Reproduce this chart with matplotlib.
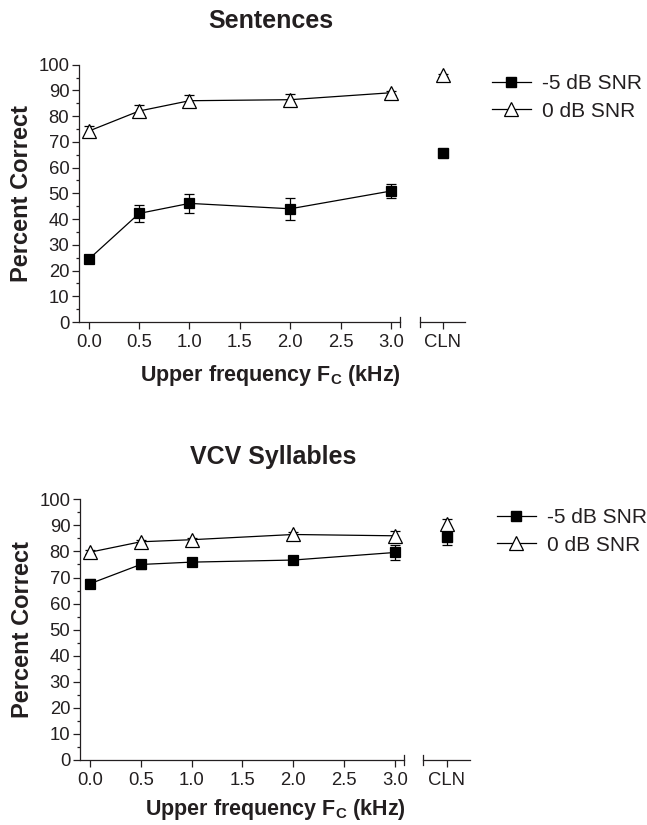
import matplotlib
matplotlib.use("Agg")
import matplotlib.pyplot as plt
from matplotlib.lines import Line2D

plt.rcParams['font.family'] = ['Liberation Sans', 'DejaVu Sans']
plt.rcParams['mathtext.fontset'] = 'custom'
plt.rcParams['mathtext.bf'] = 'Liberation Sans:bold'
plt.rcParams['mathtext.rm'] = 'Liberation Sans'

fc = [0.0, 0.5, 1.0, 2.0, 3.0]
xticks = [0.0, 0.5, 1.0, 1.5, 2.0, 2.5, 3.0]
xticklabels = ["0.0", "0.5", "1.0", "1.5", "2.0", "2.5", "3.0"]
series_labels = ["-5 dB SNR", "0 dB SNR"]

sent_m5 = [24.4, 42.2, 46.1, 44.0, 50.9]
sent_m5_err = [1.0, 3.3, 3.8, 4.3, 2.7]
sent_m5_cln = 65.8
sent_m5_cln_err = 1.0
sent_0 = [74.2, 82.0, 86.0, 86.4, 89.1]
sent_0_err = [2.0, 2.5, 2.3, 2.3, 0.8]
sent_0_cln = 95.9
sent_0_cln_err = 0.5

vcv_m5 = [67.6, 75.0, 75.9, 76.7, 79.6]
vcv_m5_err = [1.8, 1.7, 1.2, 1.6, 2.7]
vcv_m5_cln = 85.5
vcv_m5_cln_err = 2.9
vcv_0 = [79.7, 83.7, 84.5, 86.5, 86.0]
vcv_0_err = [0.8, 0.8, 0.8, 0.8, 2.0]
vcv_0_cln = 90.4
vcv_0_cln_err = 2.2

TXT = '#231f20'
W, H = 647, 825
SQ = 7
TRI = 9.5
fig = plt.figure(figsize=(W / 100, H / 100), dpi=100)


def px(l, b, r, t):
    return [l / W, 1 - b / H, (r - l) / W, (b - t) / H]


def style_axes(ax, left_spine=True):
    for s in ['top', 'right']:
        ax.spines[s].set_visible(False)
    ax.spines['left'].set_visible(left_spine)
    for s in ['left', 'bottom']:
        ax.spines[s].set_linewidth(0.9)
        ax.spines[s].set_color(TXT)
    ax.set_ylim(0, 100)
    ax.tick_params(axis='both', which='major', direction='out', length=5,
                   width=0.9, colors=TXT, labelsize=13.3)
    ax.tick_params(axis='y', which='major', pad=2)
    ax.tick_params(axis='x', which='major', pad=3.5)
    ax.tick_params(axis='y', which='minor', direction='out', length=2.5,
                   width=0.9, colors=TXT)
    ax.patch.set_visible(False)


def draw_series(ax, x, y, e, marker, face, ms):
    ax.errorbar(x, y, yerr=e, fmt='none', ecolor='black', elinewidth=0.9,
                capsize=3.5, capthick=0.9, zorder=2, clip_on=False)
    ax.plot(x, y, color='black', lw=0.9, marker=marker, ms=ms,
            mfc=face, mec='black', mew=0.9, zorder=3, clip_on=False)


def panel(l, b, r, cl, cr, t, title, m5, m5e, m5c, m5ce, z0, z0e, z0c, z0ce,
          leg_anchor, title_xy, xlabel_xy):
    ax = fig.add_axes(px(l, b, r, t))
    style_axes(ax)
    ax.set_xlim(-0.097, 3.09)
    ax.set_xticks(xticks)
    ax.set_xticklabels(xticklabels)
    ax.set_yticks(range(0, 101, 10))
    ax.set_yticks(range(5, 100, 10), minor=True)
    ax.set_ylabel("Percent Correct", fontsize=17, fontweight='bold',
                  color=TXT, labelpad=4)
    draw_series(ax, fc, m5, m5e, 's', 'black', SQ)
    draw_series(ax, fc, z0, z0e, '^', 'white', TRI)
    ax.add_line(Line2D([1, 1], [-0.018, 0.018], transform=ax.transAxes,
                       color=TXT, lw=0.9, clip_on=False))

    ax2 = fig.add_axes(px(cl, b, cr, t))
    style_axes(ax2, left_spine=False)
    ax2.set_xlim(-0.5, 0.5)
    ax2.set_yticks([])
    ax2.set_xticks([0])
    ax2.set_xticklabels(["CLN"])
    ax2.errorbar([0], [m5c], yerr=[m5ce], fmt='none', ecolor='black',
                 elinewidth=0.9, capsize=3.5, capthick=0.9, zorder=2,
                 clip_on=False)
    ax2.plot([0], [m5c], ls='none', marker='s', ms=SQ, mfc='black',
             mec='black', zorder=3, clip_on=False)
    ax2.errorbar([0], [z0c], yerr=[z0ce], fmt='none', ecolor='black',
                 elinewidth=0.9, capsize=3.5, capthick=0.9, zorder=2,
                 clip_on=False)
    ax2.plot([0], [z0c], ls='none', marker='^', ms=TRI, mfc='white',
             mec='black', mew=0.9, zorder=3, clip_on=False)
    ax2.add_line(Line2D([0, 0], [-0.018, 0.018], transform=ax2.transAxes,
                        color=TXT, lw=0.9, clip_on=False))

    handles = [Line2D([], [], color='black', lw=0.9, marker='s', ms=SQ,
                      mfc='black', mec='black'),
               Line2D([], [], color='black', lw=0.9, marker='^', ms=TRI,
                      mfc='white', mec='black', mew=0.9)]
    fig.legend(handles, series_labels, loc='upper left',
               bbox_to_anchor=(leg_anchor[0] / W, 1 - leg_anchor[1] / H),
               frameon=False, fontsize=15, handlelength=1.85,
               handletextpad=0.55, borderpad=0, borderaxespad=0,
               labelspacing=0.42, labelcolor=TXT)

    fig.text(title_xy[0] / W, 1 - title_xy[1] / H, title,
             ha='center', va='center', fontsize=18, fontweight='bold',
             color=TXT)
    fig.text(xlabel_xy[0] / W, 1 - xlabel_xy[1] / H,
             r"Upper frequency F$_\mathbf{C}$ (kHz)",
             ha='center', va='baseline', fontsize=15.5, fontweight='bold',
             color=TXT)


panel(79, 322, 400, 420, 465, 64.7, "Sentences",
      sent_m5, sent_m5_err, sent_m5_cln, sent_m5_cln_err,
      sent_0, sent_0_err, sent_0_cln, sent_0_cln_err,
      (492, 74), (270.5, 21), (270.5, 381))
panel(80, 760, 404, 423.3, 470, 499.3, "VCV Syllables",
      vcv_m5, vcv_m5_err, vcv_m5_cln, vcv_m5_cln_err,
      vcv_0, vcv_0_err, vcv_0_cln, vcv_0_cln_err,
      (497, 508), (273, 457), (275, 815))

fig.savefig("out.png", dpi=100)
